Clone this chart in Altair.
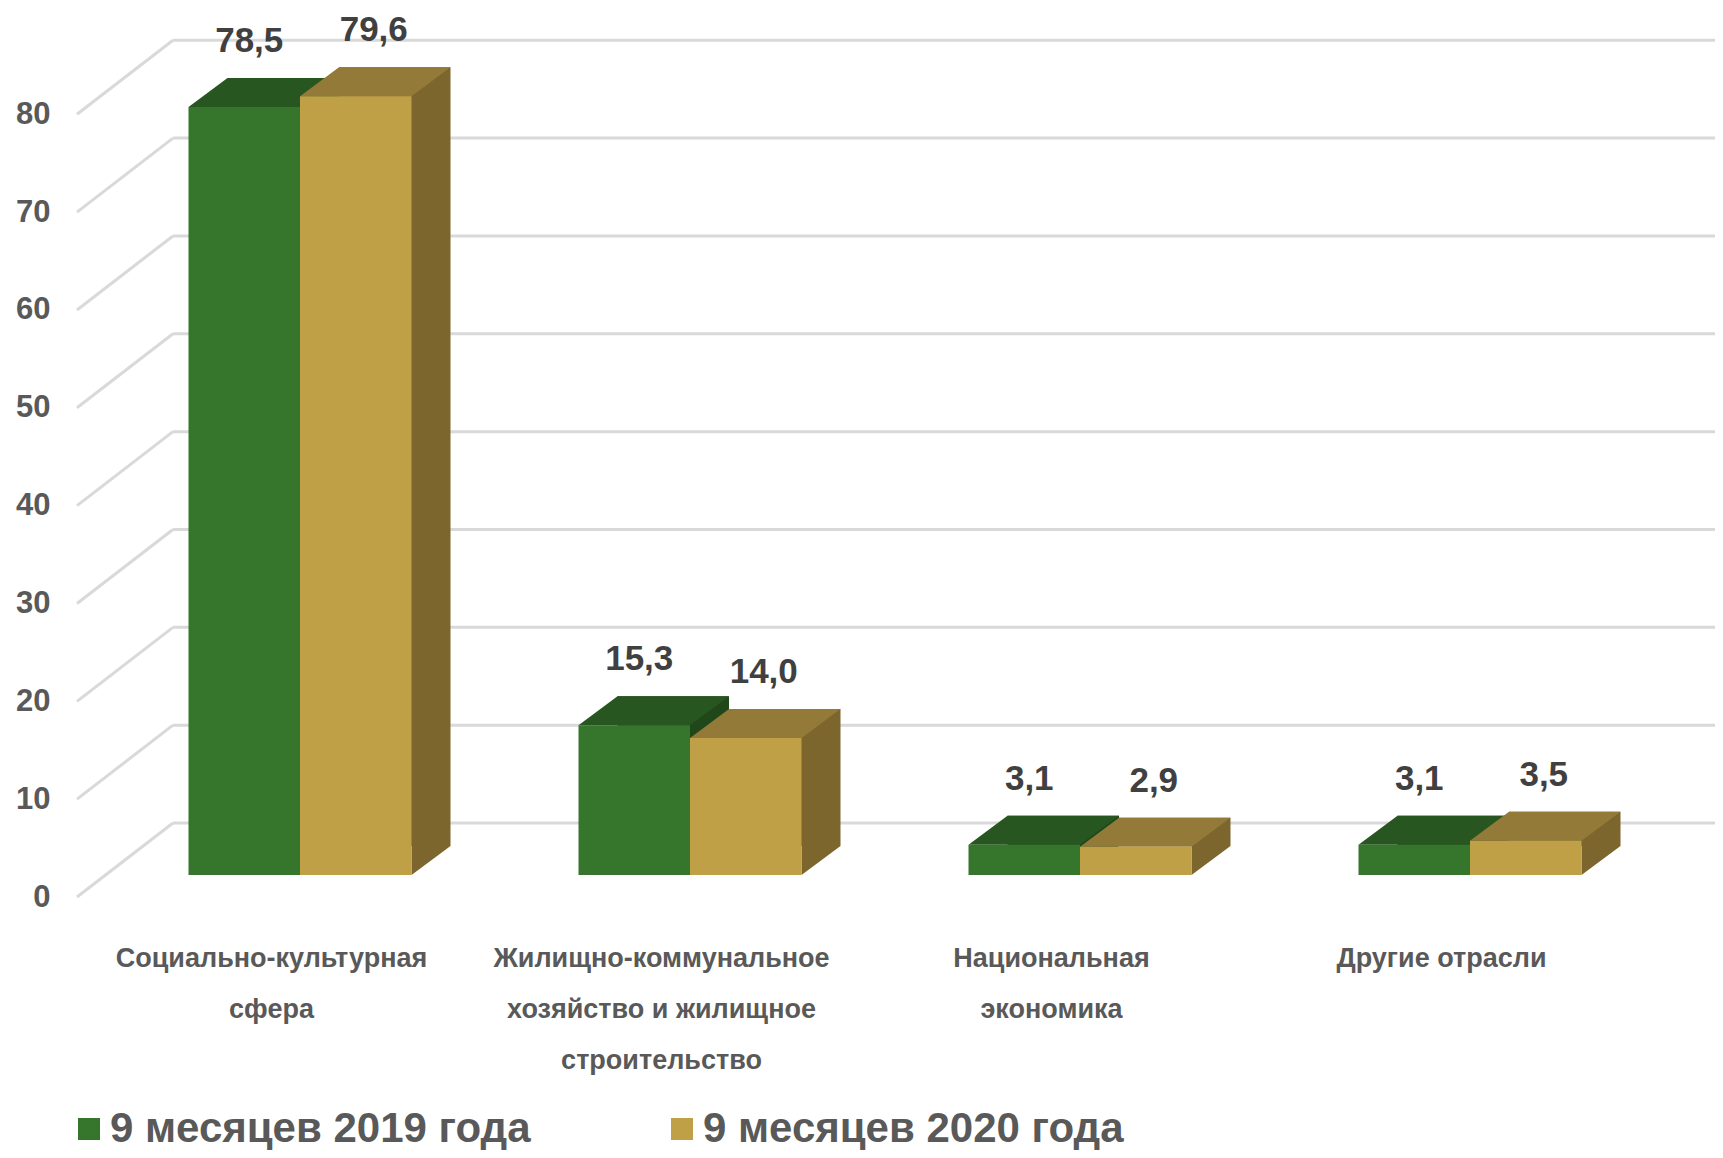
import json
import altair as alt
import pandas as pd

# ---------------- data ----------------
categories = [
    "Социально-культурная сфера",
    "Жилищно-коммунальное хозяйство и жилищное строительство",
    "Национальная экономика",
    "Другие отрасли",
]
category_lines = [
    ["Социально-культурная", "сфера"],
    ["Жилищно-коммунальное", "хозяйство и жилищное", "строительство"],
    ["Национальная", "экономика"],
    ["Другие отрасли"],
]
series = ["9 месяцев 2019 года", "9 месяцев 2020 года"]
values_2019 = [78.5, 15.3, 3.1, 3.1]
values_2020 = [79.6, 14.0, 2.9, 3.5]
y_ticks = [0, 10, 20, 30, 40, 50, 60, 70, 80]

# ---------------- layout / style ----------------
FONT = "Liberation Sans"
W, H = 1542, 861
PAD = {"left": 165, "top": 6, "right": 0, "bottom": 275}
STEP = 390.0          # px per category
FIRST_CENTER = 127.0  # px from plot left to first group centre
BAR_W = 111.5         # px per bar
DX, DY = 39, 29       # 3D depth of the bars (px)
WALL_DX, WALL_DY, FRONT_DY = 96, 52, 22

GREEN = {"front": "#36752c", "top": "#285620", "side": "#1f4719"}
GOLD = {"front": "#c0a046", "top": "#937a39", "side": "#7c662e"}
GRID = "#d9d9d9"

bw = BAR_W / STEP
rows = []
for s_i, (s_name, vals) in enumerate(zip(series, [values_2019, values_2020])):
    for c_i, (cat, v) in enumerate(zip(categories, vals)):
        x0 = c_i + (s_i - 1) * bw
        rows.append({"category": cat, "series": s_name, "value": v,
                     "x0": x0, "x1": x0 + bw, "xc": x0 + bw / 2, "zero": 0})
df = pd.DataFrame(rows)
ticks_df = pd.DataFrame({"t": y_ticks})

xscale = alt.Scale(domain=[-FIRST_CENTER / STEP, (W - FIRST_CENTER) / STEP], nice=False, zero=False)
yscale = alt.Scale(domain=[0, 88], nice=False, zero=True)

label_expr = json.dumps(category_lines, ensure_ascii=False) + "[datum.value]"
XAXIS = alt.Axis(
    values=[0, 1, 2, 3], labelExpr=label_expr, grid=False, domain=False,
    ticks=False, tickSize=0, labelPadding=70, labelOffset=-29, labelFontSize=27,
    labelFontWeight="bold", labelColor="#595959", labelFont=FONT, labelLineHeight=51,
    labelBaseline="top", labelFlush=False, labelOverlap=False, labelLimit=0, title=None)
YAXIS = alt.Axis(
    values=y_ticks, grid=False, domain=False, ticks=False, tickSize=0,
    labelPadding=123, labelOffset=FRONT_DY, labelFontSize=31, labelFontWeight="bold",
    labelColor="#595959", labelFont=FONT, title=None)

hw = BAR_W / 2
top_path = f"M {-hw} 0 L {hw} 0 L {hw + DX} {-DY} L {-hw + DX} {-DY} Z"
tri_path = f"M {hw} {-DY} L {hw + DX} {-DY} L {hw} 0 Z"

is_first = alt.datum.series == series[0]
side_color = alt.condition(is_first, alt.value(GREEN["side"]), alt.value(GOLD["side"]))
top_color = alt.condition(is_first, alt.value(GREEN["top"]), alt.value(GOLD["top"]))

# back-wall gridlines
grid = alt.Chart(ticks_df).mark_rule(color=GRID, strokeWidth=3, yOffset=-WALL_DY).encode(
    y=alt.Y("t:Q", scale=yscale, axis=YAXIS)
)
# floor diagonals
diag = alt.Chart(ticks_df).mark_rule(
    color=GRID, strokeWidth=3, yOffset=FRONT_DY, y2Offset=-WALL_DY
).encode(
    x=alt.value(-WALL_DX), x2=alt.value(0),
    y=alt.Y("t:Q", scale=yscale, axis=YAXIS), y2="t:Q",
)

base = alt.Chart(df)

sides = base.mark_rect(xOffset=DX, x2Offset=DX, yOffset=-DY, y2Offset=-DY).encode(
    x=alt.X("x0:Q", scale=xscale, axis=XAXIS), x2="x1:Q",
    y=alt.Y("value:Q", scale=yscale, axis=YAXIS), y2="zero:Q",
    color=side_color,
)
tris = base.mark_point(shape=tri_path, size=4, filled=True, opacity=1, strokeWidth=0).encode(
    x=alt.X("xc:Q", scale=xscale, axis=XAXIS),
    y=alt.Y("zero:Q", scale=yscale, axis=YAXIS),
    color=side_color,
)
tops = base.mark_point(shape=top_path, size=4, filled=True, opacity=1, strokeWidth=0).encode(
    x=alt.X("xc:Q", scale=xscale, axis=XAXIS),
    y=alt.Y("value:Q", scale=yscale, axis=YAXIS),
    color=top_color,
)
fronts = base.mark_rect().encode(
    x=alt.X("x0:Q", scale=xscale, axis=XAXIS),
    x2="x1:Q",
    y=alt.Y("value:Q", scale=yscale, axis=YAXIS), y2="zero:Q",
    color=alt.Color("series:N", scale=alt.Scale(domain=series, range=[GREEN["front"], GOLD["front"]]),
                    legend=alt.Legend(orient="none", legendX=-105, legendY=1094, direction="horizontal",
                                      title=None, symbolType="square", symbolSize=484,
                                      symbolStrokeWidth=0, labelFontSize=42, labelFontWeight="bold",
                                      labelColor="#595959", labelFont=FONT, labelOffset=0,
                                      columnPadding=130, padding=0, labelLimit=1000)),
)

def value_labels(s_name, dx):
    return base.transform_filter(alt.datum.series == s_name).transform_calculate(
        label="replace(format(datum.value, '.1f'), '.', ',')"
    ).mark_text(dx=dx, dy=-66, fontSize=35, fontWeight="bold", color="#404040", font=FONT).encode(
        x=alt.X("xc:Q", scale=xscale, axis=XAXIS),
        y=alt.Y("value:Q", scale=yscale, axis=YAXIS),
        text="label:N",
    )

chart = alt.layer(
    grid, diag, sides, tris, tops, fronts,
    value_labels(series[0], 5), value_labels(series[1], 18),
).properties(
    width=W, height=H, autosize=alt.AutoSizeParams(type="none"), padding=PAD,
).configure(background="white", view=alt.ViewConfig(stroke=None))

chart.save("out.html", embed_options={"renderer": "svg", "actions": False})
